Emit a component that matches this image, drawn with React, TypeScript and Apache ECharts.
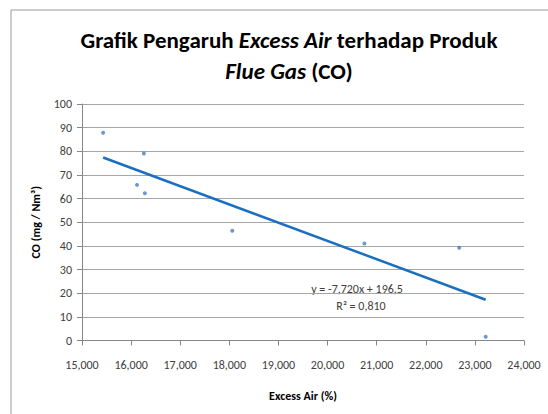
import React, { useEffect, useRef } from "react";
import * as echarts from "echarts";

const excessAir = [15.43, 16.26, 16.12, 16.28, 18.06, 20.75, 22.68, 23.22];
const coValues = [87.8, 79.1, 65.8, 62.3, 46.4, 41.0, 39.2, 1.6];
const trendSlope = -7.72;
const trendIntercept = 196.5;
const rSquared = 0.81;
const xTicks = { min: 15, max: 24, interval: 1 };
const yTicks = { min: 0, max: 100, interval: 10 };

const FONT = "Carlito, 'Liberation Sans Narrow', Lato, sans-serif";

export default function App() {
  const ref = useRef<HTMLDivElement>(null);
  useEffect(() => {
    if (!ref.current) return;
    const chart = echarts.init(ref.current, null, { renderer: "svg" });
    const xMin = Math.min(...excessAir);
    const xMax = Math.max(...excessAir);
    const trend = [
      [xMin, trendSlope * xMin + trendIntercept],
      [xMax, trendSlope * xMax + trendIntercept],
    ];
    const fmt = (v: number, d: number) => v.toFixed(d).replace(".", ",");
    chart.setOption({
      animation: false,
      backgroundColor: "#ffffff",
      grid: { left: 82, right: 24, top: 104, bottom: 73.5, containLabel: false },
      xAxis: {
        type: "value",
        min: xTicks.min,
        max: xTicks.max,
        interval: xTicks.interval,
        name: "Excess Air (%)",
        nameLocation: "middle",
        nameGap: 49,
        nameTextStyle: { fontFamily: FONT, fontSize: 12, fontWeight: "bold", color: "#000" },
        axisLine: { show: true, lineStyle: { color: "#868686", width: 1 } },
        axisTick: { show: true, length: 5, inside: false, lineStyle: { color: "#868686" } },
        axisLabel: { fontFamily: FONT, fontSize: 12, color: "#404040", margin: 18, formatter: (v: number) => fmt(v, 3) },
        splitLine: { show: false },
      },
      yAxis: {
        type: "value",
        min: yTicks.min,
        max: yTicks.max,
        interval: yTicks.interval,
        name: "CO (mg / Nm³)",
        nameLocation: "middle",
        nameGap: 40,
        nameRotate: 90,
        nameTextStyle: { fontFamily: FONT, fontSize: 12, fontWeight: "bold", color: "#000" },
        axisLine: { show: true, lineStyle: { color: "#868686", width: 1 } },
        axisTick: { show: true, length: 5, inside: false, lineStyle: { color: "#868686" } },
        axisLabel: { fontFamily: FONT, fontSize: 12, color: "#404040", margin: 10 },
        splitLine: { show: true, lineStyle: { color: "#a6a6a6", width: 1 } },
      },
      series: [
        {
          type: "scatter",
          data: excessAir.map((x, i) => [x, coValues[i]]),
          symbol: "circle",
          symbolSize: 4,
          itemStyle: { color: "#4a7ebb" },
          z: 3,
        },
        {
          type: "line",
          data: trend,
          showSymbol: false,
          symbol: "none",
          lineStyle: { color: "#1a6fc0", width: 2.5 },
          z: 2,
        },
      ],
      graphic: [
        {
          type: "rect",
          shape: { x: 11, y: 10, width: 700, height: 600 },
          style: { fill: "none", stroke: "#9a9a9a", lineWidth: 1 },
          silent: true,
        },
        {
          type: "text",
          x: 289,
          y: 55,
          style: {
            text: "{b|Grafik Pengaruh }{bi|Excess Air}{b| terhadap Produk}\n{bi|Flue Gas}{b| (CO)}",
            textAlign: "center",
            textVerticalAlign: "middle",
            rich: {
              b: { fontFamily: FONT, fontSize: 23, fontWeight: "bold", fill: "#000", lineHeight: 31 },
              bi: { fontFamily: FONT, fontSize: 23, fontWeight: "bold", fontStyle: "italic", fill: "#000", lineHeight: 31 },
            },
          },
        },
        {
          type: "text",
          x: 357,
          y: 289,
          style: {
            text: `y = ${fmt(trendSlope, 3)}x + ${fmt(trendIntercept, 1)}`,
            fontFamily: FONT,
            fontSize: 12,
            fill: "#404040",
            textAlign: "center",
            textVerticalAlign: "middle",
          },
        },
        {
          type: "text",
          x: 361,
          y: 306,
          style: {
            text: `R² = ${fmt(rSquared, 3)}`,
            fontFamily: FONT,
            fontSize: 12,
            fill: "#404040",
            textAlign: "center",
            textVerticalAlign: "middle",
          },
        },
      ],
    });
    return () => chart.dispose();
  }, []);
  return (
    <div
      ref={ref}
      style={{ position: "fixed", left: 0, top: 0, width: 548, height: 414 }}
    />
  );
}
